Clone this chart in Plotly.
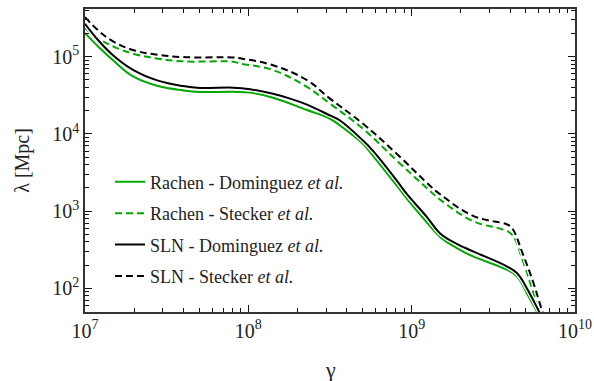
import plotly.graph_objects as go

# ---- data ----
gamma_rach_dom = [1.00e7, 1.22e7, 1.484e7, 1.968e7, 2.8e7, 3.98e7, 5.06e7, 8.05e7, 1.024e8, 1.416e8, 2.286e8,
                  3.16e8, 3.64e8, 5.04e8, 5.80e8, 8.13e8, 9.36e8, 1.172e9, 1.493e9, 1.9e9, 2.377e9,
                  3.84e9, 4.42e9, 5.08e9, 5.93e9, 6.55e9]
lam_rach_dom = [2.02e5, 1.318e5, 9.02e4, 5.56e4, 4.17e4, 3.67e4, 3.50e4, 3.51e4, 3.43e4, 2.95e4, 2.04e4,
                1.574e4, 1.288e4, 7.41e3, 5.21e3, 2.12e3, 1.445e3, 820, 465, 331, 260,
                174, 143, 86.3, 47.3, 31.6]

gamma_rach_ste = [1.00e7, 1.22e7, 1.484e7, 1.968e7, 2.8e7, 3.98e7, 8.05e7, 8.89e7, 1.416e8, 2.286e8, 3.16e8,
                  5.04e8, 8.13e8, 1.295e9, 1.493e9, 2.377e9, 3.62e9, 4.11e9, 4.81e9, 5.53e9,
                  6.11e9, 6.55e9]
lam_rach_ste = [2.34e5, 1.70e5, 1.365e5, 1.096e5, 9.44e4, 8.71e4, 8.61e4, 8.18e4, 6.71e4, 4.06e4, 2.47e4,
                1.164e4, 4.50e3, 1.828e3, 1.413e3, 743, 578, 498, 224, 90.8,
                47.3, 31.6]

gamma_sln_dom = [1.00e7, 1.22e7, 1.484e7, 1.968e7, 2.8e7, 3.98e7, 5.06e7, 8.05e7, 1.024e8, 1.416e8, 1.80e8,
                 2.286e8, 3.16e8, 3.64e8, 5.04e8, 5.80e8, 8.13e8, 9.36e8, 1.241e9, 1.493e9, 1.9e9,
                 2.377e9, 3.84e9, 4.42e9, 5.08e9, 6.11e9, 6.74e9]
lam_sln_dom = [2.67e5, 1.585e5, 1.047e5, 6.76e4, 4.90e4, 4.17e4, 3.94e4, 3.98e4, 3.80e4, 3.31e4, 2.87e4,
               2.40e4, 1.738e4, 1.496e4, 8.20e3, 6.03e3, 2.47e3, 1.66e3, 840, 515, 376,
               302, 192, 157, 100, 47.3, 31.6]

gamma_sln_ste = [1.00e7, 1.22e7, 1.484e7, 1.968e7, 2.8e7, 3.98e7, 8.05e7, 8.89e7, 1.416e8, 2.286e8, 3.16e8,
                 5.04e8, 8.13e8, 1.295e9, 1.493e9, 2.377e9, 3.84e9, 4.11e9, 4.81e9, 5.53e9,
                 6.37e9, 6.84e9]
lam_sln_ste = [3.26e5, 2.14e5, 1.585e5, 1.222e5, 1.06e5, 9.89e4, 9.77e4, 9.53e4, 7.76e4, 4.97e4, 2.87e4,
               1.355e4, 5.50e3, 2.138e3, 1.66e3, 871, 673, 608, 274, 123,
               47.3, 31.6]

series_names = ["Rachen - Dominguez <i>et al.</i>",
                "Rachen - Stecker <i>et al.</i>",
                "SLN - Dominguez <i>et al.</i>",
                "SLN - Stecker <i>et al.</i>"]
x_tick_vals = [1e7, 1e8, 1e9, 1e10]
x_tick_text = ["10<sup>7</sup>", "10<sup>8</sup>", "10<sup>9</sup>", "10<sup>10</sup>"]
y_tick_vals = [1e2, 1e3, 1e4, 1e5]
y_tick_text = ["10<sup>2</sup>", "10<sup>3</sup>", "10<sup>4</sup>", "10<sup>5</sup>"]
x_minor_vals = [m * 10 ** e for e in (7, 8, 9) for m in range(2, 10)]
y_minor_vals = [m * 10 ** e for e in (1, 2, 3, 4, 5) for m in range(2, 10)]
x_title = "γ"
y_title = "λ [Mpc]"

GREEN = "#00a800"
BLACK = "#000000"
DASH = "7px,4px"

series = [
    (gamma_rach_dom, lam_rach_dom, GREEN, "solid"),
    (gamma_rach_ste, lam_rach_ste, GREEN, DASH),
    (gamma_sln_dom, lam_sln_dom, BLACK, "solid"),
    (gamma_sln_ste, lam_sln_ste, BLACK, DASH),
]

FONT = "Liberation Serif"
SM = 1.15

fig = go.Figure()
for i, ((gx, ly, col, dash), name) in enumerate(zip(series, series_names)):
    fig.add_trace(go.Scatter(x=gx, y=ly, mode="lines", showlegend=False, hoverinfo="skip",
                             line=dict(color="white", width=4.5, dash=dash, shape="spline", smoothing=SM)))
    fig.add_trace(go.Scatter(x=gx, y=ly, mode="lines", name=name, legendgroup=f"g{i}",
                             line=dict(color=col, width=2, dash=dash, shape="spline", smoothing=SM)))

fig.add_trace(go.Scatter(x=[1e8], y=[1e3], xaxis="x2", yaxis="y2", mode="markers",
                         marker=dict(opacity=0), showlegend=False, hoverinfo="skip"))

xr = [7, 10]
yr = [1.695, 5.618]
TC = "#111"


def ax(**kw):
    d = dict(type="log", showgrid=False, zeroline=False, ticks="inside", ticklen=7,
             tickwidth=1, tickcolor=TC, linecolor="#333", linewidth=1.5, automargin=False)
    d.update(kw)
    return d


def mnr(vals):
    return dict(tickvals=vals, ticks="inside", ticklen=4, tickwidth=1, tickcolor=TC)


fig.update_layout(
    width=594, height=381,
    margin=dict(l=85, r=19, t=9, b=69, autoexpand=False),
    paper_bgcolor="white", plot_bgcolor="white",
    font=dict(family=FONT, size=20, color="#222"),
    xaxis=ax(range=xr, tickvals=x_tick_vals, ticktext=x_tick_text, tickfont=dict(size=20),
             minor=mnr(x_minor_vals)),
    yaxis=ax(range=yr, tickvals=y_tick_vals, ticktext=y_tick_text, tickfont=dict(size=20),
             minor=mnr(y_minor_vals)),
    xaxis2=ax(range=xr, overlaying="x", side="top", showticklabels=False, anchor="y2",
              tickvals=x_tick_vals, minor=mnr(x_minor_vals)),
    yaxis2=ax(range=yr, overlaying="y", side="right", showticklabels=False, anchor="x2",
              tickvals=y_tick_vals, minor=mnr(y_minor_vals)),
    legend=dict(x=0.051, y=0.49, xanchor="left", yanchor="top", bgcolor="rgba(0,0,0,0)",
                font=dict(family=FONT, size=18, color="#222"), tracegroupgap=5,
                itemwidth=30),
    annotations=[
        dict(text=x_title, xref="paper", yref="paper", x=0.5, y=-0.19, xanchor="center",
             yanchor="middle", showarrow=False, font=dict(family=FONT, size=22, color="#222")),
        dict(text=y_title, xref="paper", yref="paper", x=-0.128, y=0.5, xanchor="center",
             yanchor="middle", textangle=-90, showarrow=False,
             font=dict(family=FONT, size=20, color="#222")),
    ],
    showlegend=True,
)

fig.write_html("out.html", config={"displayModeBar": False},
               post_script="document.body.style.margin='0';")
